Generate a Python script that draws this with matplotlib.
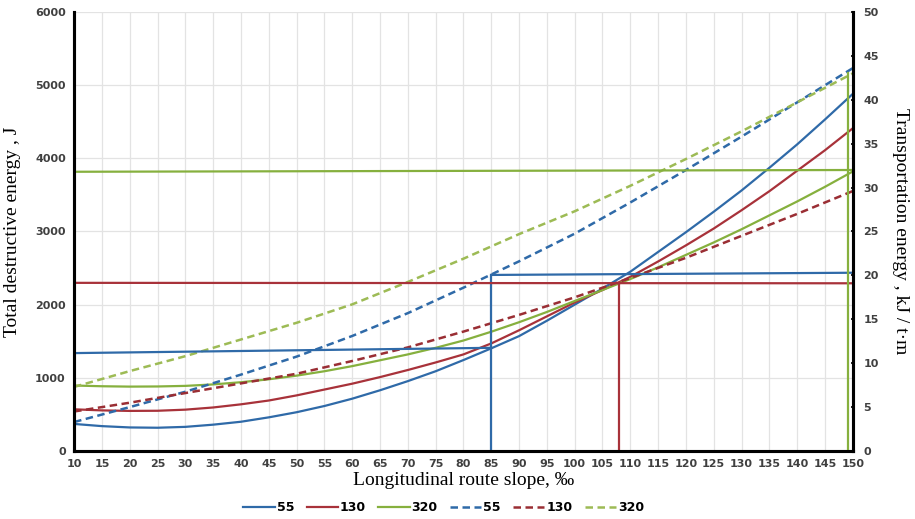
import numpy as np
import matplotlib
matplotlib.use('Agg')
import matplotlib.pyplot as plt

# slope values, per mille
slope = [10, 15, 20, 25, 30, 35, 40, 45, 50, 55, 60, 65, 70, 75, 80, 85,
         90, 95, 100, 105, 110, 115, 120, 125, 130, 135, 140, 145, 150]

# total destructive energy, J (solid lines, left axis)
destr_55 = [370, 340, 322, 318, 330, 360, 400, 460, 530, 615, 715, 830, 955, 1090, 1243, 1403,
            1570, 1780, 2000, 2220, 2450, 2720, 2990, 3270, 3560, 3870, 4190, 4530, 4880]
destr_130 = [570, 555, 548, 550, 565, 595, 638, 690, 760, 840, 920, 1010, 1107, 1210, 1320, 1470,
             1650, 1840, 2030, 2200, 2380, 2590, 2810, 3040, 3290, 3550, 3830, 4110, 4410]
destr_320 = [895, 885, 880, 882, 890, 910, 940, 980, 1030, 1090, 1160, 1240, 1320, 1410, 1510, 1630,
             1760, 1900, 2050, 2200, 2350, 2510, 2680, 2850, 3030, 3220, 3410, 3610, 3820]

# transportation energy, kJ/t*m (dashed lines, right axis)
slope_t = [10, 20, 30, 40, 50, 60, 70, 80, 90, 100, 110, 120, 130, 140, 150]
transp_55 = [3.3, 5.0, 6.75, 8.7, 10.75, 13.1, 15.7, 18.6, 21.6, 24.75, 28.3, 32.0, 35.8, 39.7, 43.6]
transp_130 = [4.5, 5.5, 6.6, 7.7, 8.8, 10.25, 11.8, 13.6, 15.5, 17.5, 19.7, 22.0, 24.5, 27.0, 29.6]
transp_320 = [7.3, 9.1, 10.8, 12.7, 14.6, 16.7, 19.25, 21.9, 24.7, 27.3, 30.2, 33.25, 36.4, 39.7, 43.0]

# construction lines (x, y) in right-axis units
guide_55_low_x, guide_55_low_y = [10, 85], [11.15, 11.75]
guide_55_vert_x, guide_55_vert_y = [85, 85], [0, 20.05]
guide_55_high_x, guide_55_high_y = [85, 150], [20.05, 20.3]
guide_130_x, guide_130_y = [10, 150], [19.15, 19.1]
guide_130_vert_x, guide_130_vert_y = [108, 108], [0, 19.1]
guide_320_x, guide_320_y = [10, 150], [31.8, 32.0]
guide_320_vert_x, guide_320_vert_y = [149.2, 149.2], [0, 43.0]

labels = ['55', '130', '320']
blue = '#2f6aa8'
red = '#a8323a'
green = '#86b03e'
red_d = '#9a2e34'
green_d = '#9dbb55'

fig = plt.figure(figsize=(9.15, 5.19), dpi=100)
ax = fig.add_axes([0.081, 0.131, 0.851, 0.846])
ax2 = ax.twinx()

h1, = ax.plot(slope, destr_55, color=blue, lw=1.6)
h2, = ax.plot(slope, destr_130, color=red, lw=1.6)
h3, = ax.plot(slope, destr_320, color=green, lw=1.6)
h4, = ax2.plot(slope_t, transp_55, color=blue, lw=1.8, ls=(0, (3, 1.8)))
h5, = ax2.plot(slope_t, transp_130, color=red_d, lw=1.8, ls=(0, (3, 1.8)))
h6, = ax2.plot(slope_t, transp_320, color=green_d, lw=1.8, ls=(0, (3, 1.8)))

for gx, gy, c in [(guide_55_low_x, guide_55_low_y, blue),
                  (guide_55_vert_x, guide_55_vert_y, blue),
                  (guide_55_high_x, guide_55_high_y, blue),
                  (guide_130_x, guide_130_y, red),
                  (guide_130_vert_x, guide_130_vert_y, red),
                  (guide_320_x, guide_320_y, green),
                  (guide_320_vert_x, guide_320_vert_y, green)]:
    ax2.plot(gx, gy, color=c, lw=1.6)

ax.set_xlim(10, 150)
ax.set_ylim(0, 6000)
ax2.set_ylim(0, 50)
ax.set_xticks(np.arange(10, 151, 5))
ax.set_yticks(np.arange(0, 6001, 1000))
ax2.set_yticks(np.arange(0, 51, 5))
ax.grid(True, color='#e3e3e3', lw=0.9)
ax.set_axisbelow(True)

for a in (ax, ax2):
    a.spines['top'].set_visible(False)
    for s in ('left', 'right', 'bottom'):
        a.spines[s].set_linewidth(2.2)
        a.spines[s].set_color('black')

ax.tick_params(axis='both', length=0, pad=6)
ax2.tick_params(axis='y', length=3, width=1.2, direction='inout', pad=6)
for lab in ax.get_xticklabels() + ax.get_yticklabels() + ax2.get_yticklabels():
    lab.set_fontsize(8)
    lab.set_fontweight('bold')
    lab.set_color('#404040')

serif = 'Liberation Serif'
ax.set_xlabel('Longitudinal route slope, ‰', family=serif, fontsize=14, labelpad=2)
ax.set_ylabel('Total destructive energy , J', family=serif, fontsize=14, labelpad=10)
ax2.set_ylabel('Transportation energy , kJ / t·m', family=serif, fontsize=14,
               rotation=270, labelpad=22)

fig.legend([h1, h2, h3, h4, h5, h6], labels + labels, loc='lower center',
           bbox_to_anchor=(0.485, -0.012), ncol=6, frameon=False,
           prop=dict(size=9, weight='bold'), handlelength=2.5,
           handletextpad=0.15, columnspacing=1.0)

fig.savefig('out.png', dpi=100)
